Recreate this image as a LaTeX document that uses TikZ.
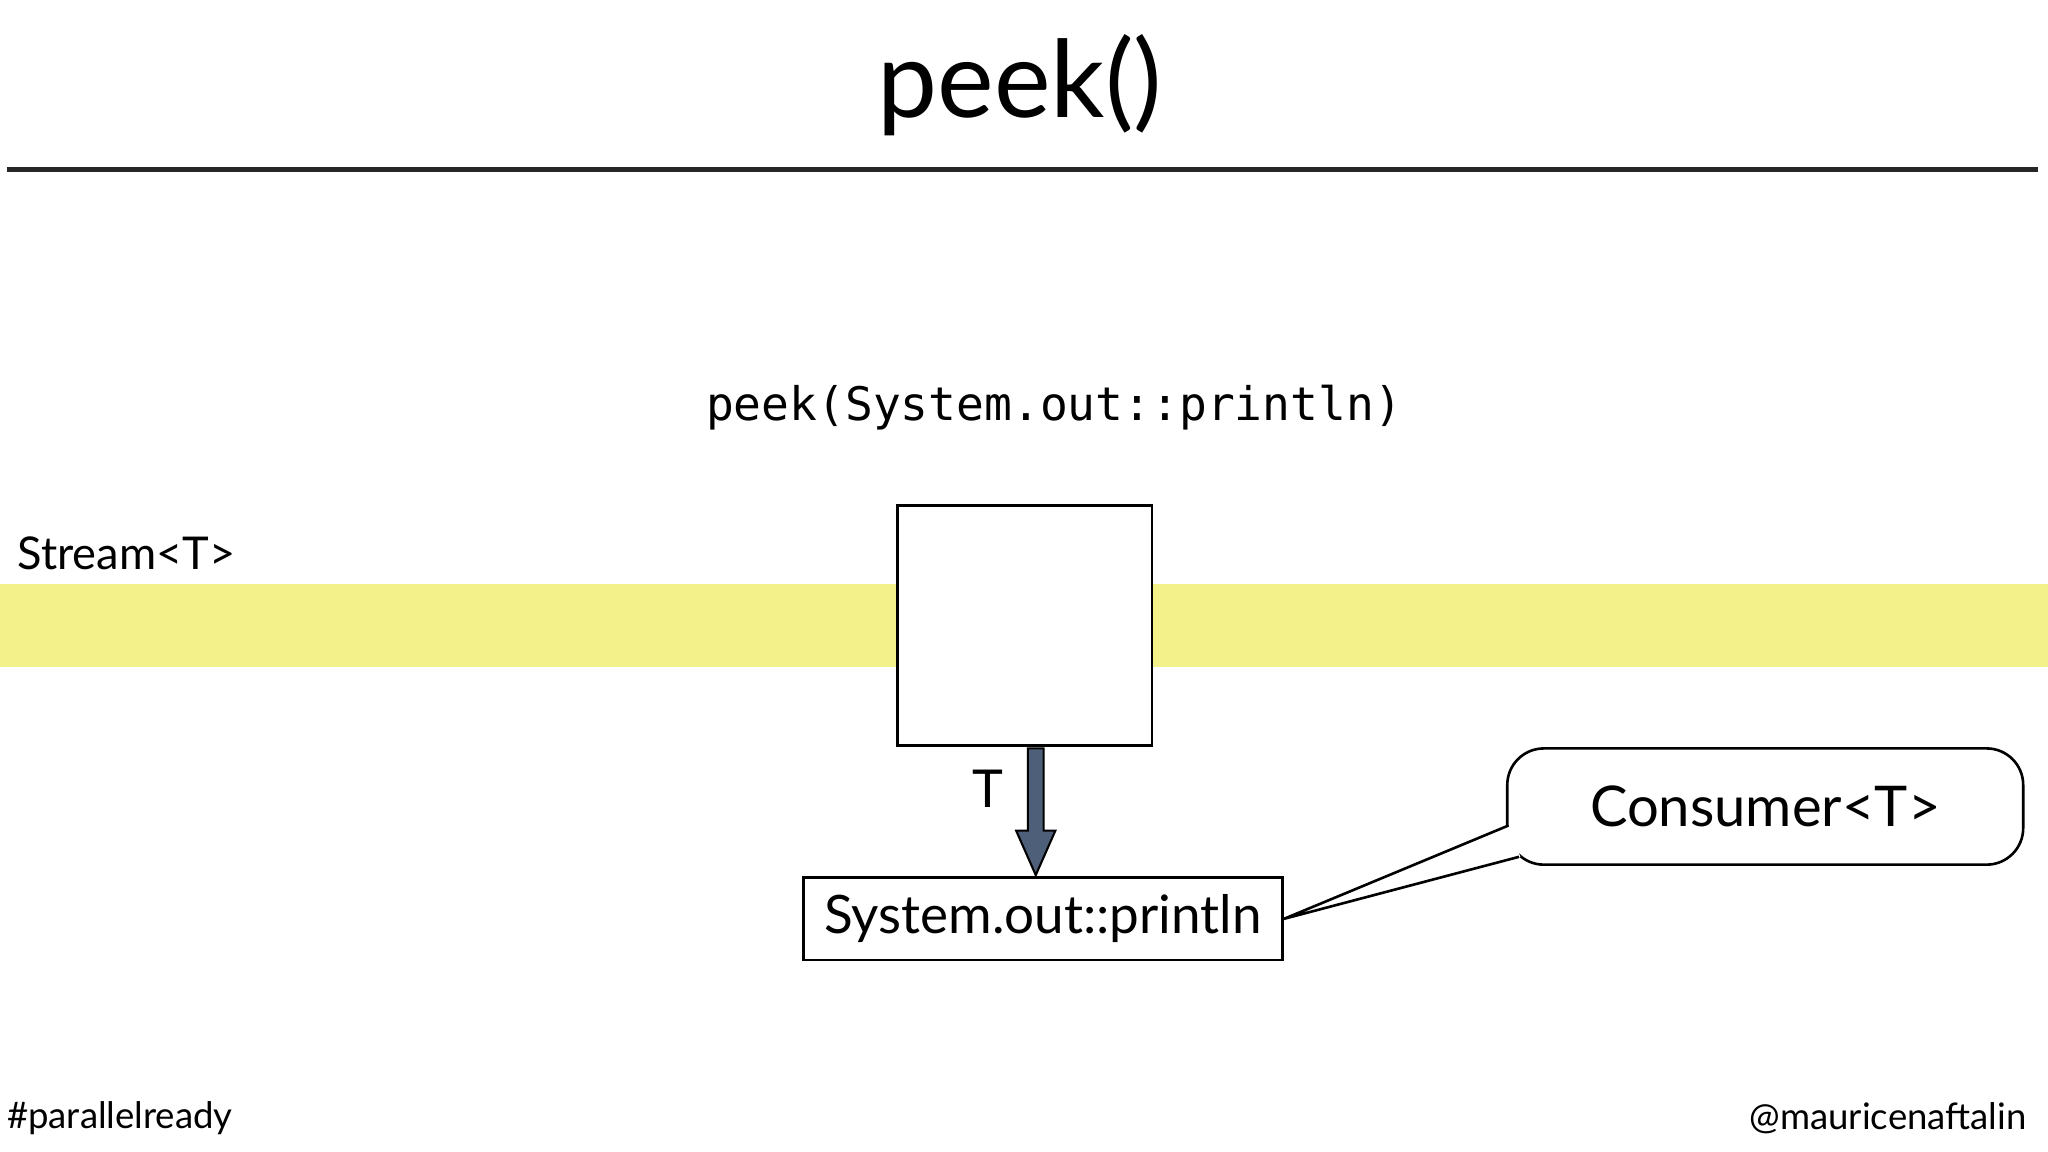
\documentclass[tikz,border=0pt]{standalone}
\usepackage{fontspec}
\setmainfont{Lato}
\newfontfamily\mono{DejaVu Sans Mono}
\begin{document}
\begin{tikzpicture}[x=0.5pt,y=-0.5pt,
  lbl/.style={inner sep=0pt}]
\useasboundingbox (0,0) rectangle (1568,882);
\fill[white] (0,0) rectangle (1568,882);
\node[lbl] (title) at (781,65) {\fontsize{41}{48}\selectfont peek()};
\draw[line width=2pt,black!85] (5,130) -- (1560,130);
\node[lbl] (code) at (807,312) {\mono\fontsize{17.7}{20}\selectfont peek(System.out::println)};
\node[lbl,anchor=west] (stream) at (13,424) {\fontsize{17.3}{20}\selectfont Stream<T>};
\fill[fill={rgb,255:red,243;green,242;blue,138}] (0,447) rectangle (1568,511);
\node[draw,fill=white,line width=1pt,minimum width=97.5pt,minimum height=92pt,inner sep=0pt] (op) at (784.5,479) {};
\node[draw,line width=1pt,minimum width=183.5pt,minimum height=31.5pt,inner sep=0pt] (pr) at (798.5,703.5) {\fontsize{20.3}{24}\selectfont System.out::println};
\draw[fill={rgb,255:red,78;green,96;blue,121},line width=0.8pt]
 (787,573) -- (799,573) -- (799,636) -- (808,636) -- (793,670) -- (778,636) -- (787,636) -- cycle;
\node[lbl] (t) at (756,604) {\fontsize{20}{24}\selectfont T};
\node[draw,line width=1pt,rounded corners=14pt,minimum width=197.5pt,minimum height=44.5pt] (cons) at (1351.5,617.5) {\fontsize{21.5}{24}\selectfont Consumer<T>};
\coordinate (tip) at (pr.east);
\fill[white] (1156,632) -- (tip) -- (1164,656) -- cycle;
\draw[line width=1pt] (1155,632) -- (tip) -- (1163,656);
\node[lbl,anchor=west] (tag) at (5,856) {\fontsize{14}{16}\selectfont\#parallelready};
\node[lbl,anchor=east] (au) at (1552,856) {\fontsize{14}{16}\selectfont @mauricenaftalin};
\end{tikzpicture}
\end{document}
